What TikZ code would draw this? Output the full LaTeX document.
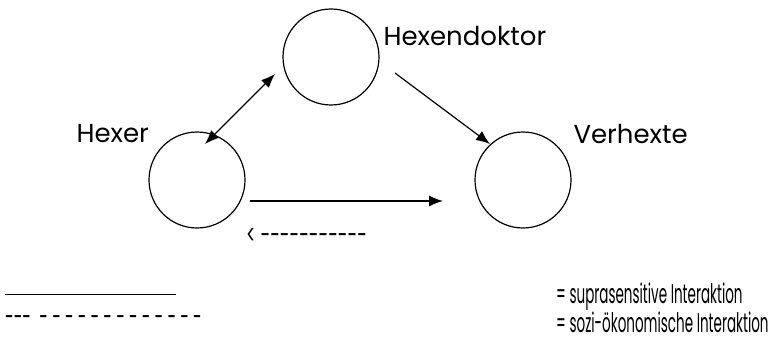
\documentclass[tikz,border=0pt]{standalone}
\usepackage{fontspec}
\usepackage{graphicx}
\setmainfont{Poppins}
\usetikzlibrary{arrows.meta}
\tikzset{
    person/.style={draw,circle,line width=1.2pt,minimum size=96pt,inner sep=0pt},
    legend/.style={anchor=west,inner sep=0pt,font=\fontsize{27}{32}\selectfont},
    link/.style={line width=1.2pt,-{Latex[length=14pt,width=11pt]}}
}
\begin{document}
\begin{tikzpicture}[x=1pt,y=-1pt,font=\fontsize{26}{31}\selectfont]
    \useasboundingbox (0,0) rectangle (783,342);
    \coordinate (d) at (331,57);
    \coordinate (h) at (197,180);
    \coordinate (v) at (523,180);
    \node[person] (doktor) at (d) {};
    \node[person] (hexer) at (h) {};
    \node[person] (verhexte) at (v) {};

    \node[anchor=west] (tdoktor) at (380,36) {Hexendoktor};
    \node[anchor=west] (thexer) at (73,134) {Hexer};
    \node[anchor=west] (tverhexte) at (570,134) {Verhexte};

    \coordinate (a1) at (205,144);
    \coordinate (a2) at (275,74);
    \draw[link,{Latex[length=14pt,width=11pt]}-{Latex[length=14pt,width=11pt]}] (a1) -- (a2);
    \coordinate (b1) at (395,73);
    \coordinate (b2) at (490,144);
    \draw[link] (b1) -- (b2);
    \coordinate (c1) at (250,201);
    \coordinate (c2) at (443,201);
    \draw[link] (c1) -- (c2);
    \node[legend] (tback) at (246,236) {\scalebox{0.65}[1]{<\ -{}-{}-{}-{}-{}-{}-{}-{}-{}-{}-}};

    \coordinate (l1) at (5,294);
    \coordinate (l2) at (176,294);
    \draw[line width=1pt] (l1) -- (l2);
    \node[legend] (tsupra) at (556,297) {\scalebox{0.5}[1]{= suprasensitive Interaktion}};
    \node[legend] (tdash) at (5,321) {\scalebox{0.58}[1]{-{}-{}-\ \ - - - - - - - - - - - - -}};
    \node[legend] (tsozi) at (556,322) {\scalebox{0.5}[1]{= sozi-ökonomische Interaktion}};
\end{tikzpicture}
\end{document}
